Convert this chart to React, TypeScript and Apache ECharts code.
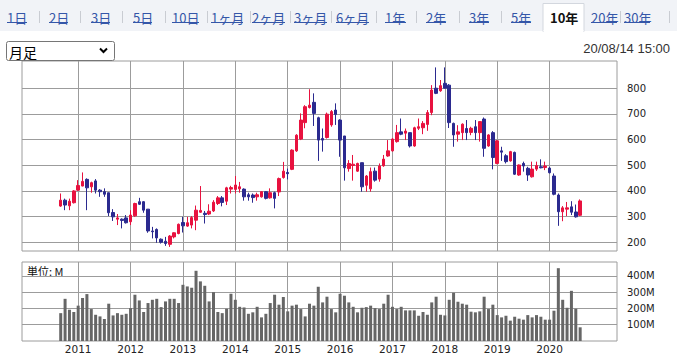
import React, { useEffect, useRef } from "react";
import * as echarts from "echarts";

// Monthly candles, Sep 2010 .. Aug 2020 (index 0 = 2010-09)
const opens = [
  341, 364, 342, 354, 403, 419, 445, 416, 439, 403, 397, 393,
  316, 290, 290, 295, 280, 303, 358, 358, 329, 244, 250, 212,
  204, 192, 221, 234, 277, 263, 267, 286, 317, 313, 310, 322,
  351, 373, 360, 407, 406, 408, 407, 385, 384, 377, 377, 397,
  373, 393, 396, 452, 472, 484, 556, 602, 666, 725, 745, 685,
  604, 608, 657, 715, 676, 614, 487, 499, 477, 510, 422, 408,
  477, 446, 498, 536, 556, 592, 630, 625, 627, 575, 644, 646,
  659, 705, 800, 790, 819, 812, 663, 621, 627, 643, 628, 650,
  627, 680, 575, 627, 507, 556, 537, 517, 550, 462, 507, 488,
  455, 485, 494, 491, 489, 458, 384, 319, 329, 338, 318, 305,
];
const closes = [
  364, 345, 360, 400, 421, 437, 412, 432, 403, 397, 387, 315,
  299, 295, 285, 276, 306, 351, 348, 325, 244, 241, 217, 200,
  195, 224, 237, 270, 264, 276, 296, 325, 324, 308, 321, 356,
  373, 355, 412, 413, 423, 416, 377, 377, 374, 385, 397, 371,
  393, 371, 448, 477, 467, 559, 617, 676, 728, 734, 702, 598,
  598, 699, 709, 698, 598, 490, 507, 504, 507, 416, 458, 475,
  442, 497, 524, 556, 602, 627, 621, 633, 575, 646, 650, 663,
  705, 793, 780, 810, 800, 666, 618, 630, 660, 627, 644, 627,
  670, 566, 618, 530, 595, 551, 514, 553, 465, 501, 497, 462,
  485, 499, 490, 497, 471, 387, 319, 334, 334, 317, 299, 361,
];
const lows = [
  338, 325, 325, 351, 400, 418, 325, 393, 390, 377, 377, 302,
  283, 267, 254, 273, 267, 299, 345, 315, 237, 215, 198, 195,
  186, 182, 215, 231, 238, 260, 254, 247, 315, 273, 306, 318,
  345, 340, 345, 390, 390, 393, 362, 362, 354, 362, 374, 367,
  370, 332, 380, 448, 445, 481, 552, 598, 644, 721, 653, 517,
  553, 604, 650, 657, 533, 440, 475, 440, 474, 397, 397, 397,
  436, 436, 494, 533, 553, 588, 617, 598, 569, 572, 637, 621,
  634, 695, 777, 786, 800, 645, 572, 592, 598, 598, 617, 598,
  592, 533, 572, 484, 504, 517, 507, 514, 462, 459, 475, 439,
  452, 478, 488, 481, 468, 383, 264, 282, 302, 306, 296, 302,
];
const highs = [
  390, 370, 370, 403, 442, 472, 449, 436, 446, 407, 410, 393,
  329, 310, 293, 306, 325, 354, 373, 360, 329, 260, 254, 215,
  221, 228, 239, 273, 299, 299, 302, 343, 419, 322, 348, 364,
  380, 380, 416, 420, 458, 435, 410, 393, 390, 393, 399, 399,
  410, 397, 452, 513, 487, 562, 621, 702, 734, 796, 780, 689,
  643, 705, 715, 741, 679, 614, 520, 540, 510, 510, 462, 491,
  491, 507, 540, 598, 605, 657, 682, 643, 627, 650, 682, 672,
  715, 812, 881, 832, 881, 816, 666, 656, 663, 676, 650, 676,
  672, 686, 621, 633, 598, 572, 543, 556, 553, 503, 514, 494,
  514, 514, 523, 514, 494, 468, 390, 341, 357, 360, 347, 367,
];
// Monthly volume, millions of shares
const volumes = [
  171, 259, 192, 178, 217, 264, 288, 196, 161, 151, 135, 229,
  157, 171, 161, 167, 202, 284, 249, 178, 233, 253, 259, 208,
  243, 259, 259, 233, 345, 335, 327, 431, 366, 339, 243, 300,
  178, 171, 198, 290, 253, 210, 206, 167, 176, 210, 145, 167,
  233, 284, 223, 270, 182, 217, 223, 196, 151, 229, 217, 333,
  237, 272, 196, 176, 290, 278, 237, 210, 176, 204, 208, 217,
  202, 196, 229, 284, 210, 196, 210, 188, 188, 188, 155, 178,
  161, 237, 272, 161, 157, 253, 296, 241, 229, 223, 180, 176,
  182, 272, 196, 223, 159, 145, 155, 125, 149, 137, 131, 159,
  145, 159, 149, 131, 131, 186, 447, 253, 204, 308, 198, 84,
];
const yearTickIndex = [4, 16, 28, 40, 52, 64, 76, 88, 100, 112];
const yearLabels = ["2011", "2012", "2013", "2014", "2015", "2016", "2017", "2018", "2019", "2020"];
const priceTicks = [200, 300, 400, 500, 600, 700, 800];
const volumeTicks = [100, 200, 300, 400];
const tabLabels = ["1日", "2日", "3日", "5日", "10日", "1ヶ月", "2ヶ月", "3ヶ月", "6ヶ月", "1年", "2年", "3年", "5年", "10年", "20年", "30年"];
const selectedTab = "10年";
const periodLabel = "月足";
const timestamp = "20/08/14 15:00";
const unitLabel = "単位: M";

// layout (positions, not data)
const tabX = [7, 49, 91, 133, 172, 211, 252, 294, 336, 385, 426, 469, 511, 550, 591, 624];
const tabW = [20, 19, 19, 19, 27, 32, 33, 33, 33, 21, 20, 20, 20, 25, 26, 26];
const sepX = [39, 80, 122, 165, 207, 250, 290, 331, 376, 416, 459, 501, 620, 669];

const RED = "#e8123f";
const BLUE = "#2b2a8f";
const GRID = "#9c9c9c";
const LINK = "#3456a8";
const CJK = "'Noto Sans CJK JP', 'Noto Sans', sans-serif";
const LAT = "'DejaVu Sans', sans-serif";

const X_MIN = -8.87;
const X_MAX = 127.44;

export default function App() {
  const ref = useRef<HTMLDivElement>(null);
  useEffect(() => {
    if (!ref.current) return;
    const chart = echarts.init(ref.current, null, { renderer: "svg" });
    const candles = opens.map((o, i) => [i, o, closes[i], lows[i], highs[i]]);
    const vols = volumes.map((v, i) => [i, v]);

    const graphics: any[] = [
      { type: "rect", shape: { x: 0, y: 0, width: 677, height: 31 }, style: { fill: "#f1f3f7" }, silent: true },
    ];
    const selIdx = tabLabels.indexOf(selectedTab);
    graphics.push({
      type: "rect",
      shape: { x: tabX[selIdx] - 7, y: 3.5, width: 41, height: 28 },
      style: { fill: "#ffffff", stroke: "#d3d7de", lineWidth: 1 },
    });
    graphics.push({ type: "rect", shape: { x: tabX[selIdx] - 6.5, y: 30, width: 40, height: 3 }, style: { fill: "#ffffff" } });
    tabLabels.forEach((t, i) => {
      const sel = t === selectedTab;
      graphics.push({
        type: "text",
        x: tabX[i],
        y: 17,
        style: {
          text: t,
          fill: sel ? "#111" : LINK,
          font: `${sel ? "bold " : ""}13px ${CJK}`,
          textVerticalAlign: "middle",
        },
      });
      if (!sel) {
        graphics.push({
          type: "line",
          shape: { x1: tabX[i], y1: 22.5, x2: tabX[i] + tabW[i], y2: 22.5 },
          style: { stroke: LINK, lineWidth: 1 },
        });
      }
    });
    sepX.forEach((x) => {
      graphics.push({ type: "line", shape: { x1: x + 0.5, y1: 11, x2: x + 0.5, y2: 23 }, style: { stroke: "#c9ccd2", lineWidth: 1 } });
    });
    // select box
    graphics.push({
      type: "rect",
      shape: { x: 6.5, y: 41.5, width: 108, height: 19, r: 2 },
      style: { fill: "#fff", stroke: "#767676", lineWidth: 1 },
    });
    graphics.push({
      type: "text",
      x: 9,
      y: 51.5,
      style: { text: periodLabel, fill: "#000", font: `14px ${CJK}`, textVerticalAlign: "middle" },
    });
    graphics.push({
      type: "polyline",
      shape: { points: [[100, 48.5], [103.5, 52], [107, 48.5]] },
      style: { stroke: "#000", lineWidth: 2, fill: "none" },
    });
    graphics.push({
      type: "text",
      x: 670,
      y: 48,
      style: { text: timestamp, fill: "#333", font: `13px 'Liberation Sans', sans-serif`, textAlign: "right", textVerticalAlign: "middle" },
    });
    graphics.push({
      type: "text",
      x: 27,
      y: 271,
      style: { text: unitLabel, fill: "#111", font: `11px ${CJK}`, textVerticalAlign: "middle" },
    });

    const option: any = {
      animation: false,
      backgroundColor: "#ffffff",
      grid: [
        { left: 22, top: 61, width: 595, height: 190, show: true, borderColor: GRID, borderWidth: 1 },
        { left: 22, top: 262, width: 595, height: 79, show: true, borderColor: GRID, borderWidth: 1 },
      ],
      xAxis: [
        {
          type: "value",
          gridIndex: 0,
          min: X_MIN,
          max: X_MAX,
          axisLine: { show: false },
          axisTick: { show: false, customValues: yearTickIndex },
          axisLabel: { show: false, customValues: yearTickIndex },
          splitLine: { show: true, lineStyle: { color: GRID, width: 1 } },
        },
        {
          type: "value",
          gridIndex: 1,
          min: X_MIN,
          max: X_MAX,
          axisLine: { show: false },
          axisTick: { show: false, customValues: yearTickIndex },
          axisLabel: {
            customValues: yearTickIndex,
            formatter: (v: number) => yearLabels[yearTickIndex.indexOf(Math.round(v))] ?? "",
            fontFamily: LAT,
            fontSize: 10.5,
            color: "#222",
            margin: 2,
          },
          splitLine: { show: true, lineStyle: { color: GRID, width: 1 } },
        },
      ],
      yAxis: [
        {
          type: "value",
          gridIndex: 0,
          position: "right",
          min: 166,
          max: 906,
          axisLine: { show: false },
          axisTick: { show: false, customValues: priceTicks },
          axisLabel: { customValues: priceTicks, fontFamily: LAT, fontSize: 10, color: "#222", margin: 10 },
          splitLine: { show: true, lineStyle: { color: GRID, width: 1 } },
        },
        {
          type: "value",
          gridIndex: 1,
          position: "right",
          min: 0,
          max: 485,
          axisLine: { show: false },
          axisTick: { show: false, customValues: volumeTicks },
          axisLabel: {
            customValues: volumeTicks,
            formatter: (v: number) => `${v}M`,
            fontFamily: LAT,
            fontSize: 10,
            color: "#222",
            margin: 10,
          },
          splitLine: { show: true, lineStyle: { color: GRID, width: 1 } },
        },
      ],
      series: [
        {
          type: "candlestick",
          xAxisIndex: 0,
          yAxisIndex: 0,
          data: candles,
          encode: { x: 0, y: [1, 2, 3, 4] },
          barWidth: 3,
          itemStyle: { color: RED, color0: BLUE, borderColor: RED, borderColor0: BLUE, borderWidth: 1 },
        },
        {
          type: "bar",
          xAxisIndex: 1,
          yAxisIndex: 1,
          data: vols,
          barWidth: 3,
          itemStyle: { color: "#666666" },
        },
      ],
      graphic: graphics,
    };
    chart.setOption(option);
    return () => chart.dispose();
  }, []);
  return (
    <div style={{ position: "fixed", left: 0, top: 0, width: 677, height: 354, background: "#fff" }}>
      <div ref={ref} style={{ width: 677, height: 354 }} />
    </div>
  );
}
